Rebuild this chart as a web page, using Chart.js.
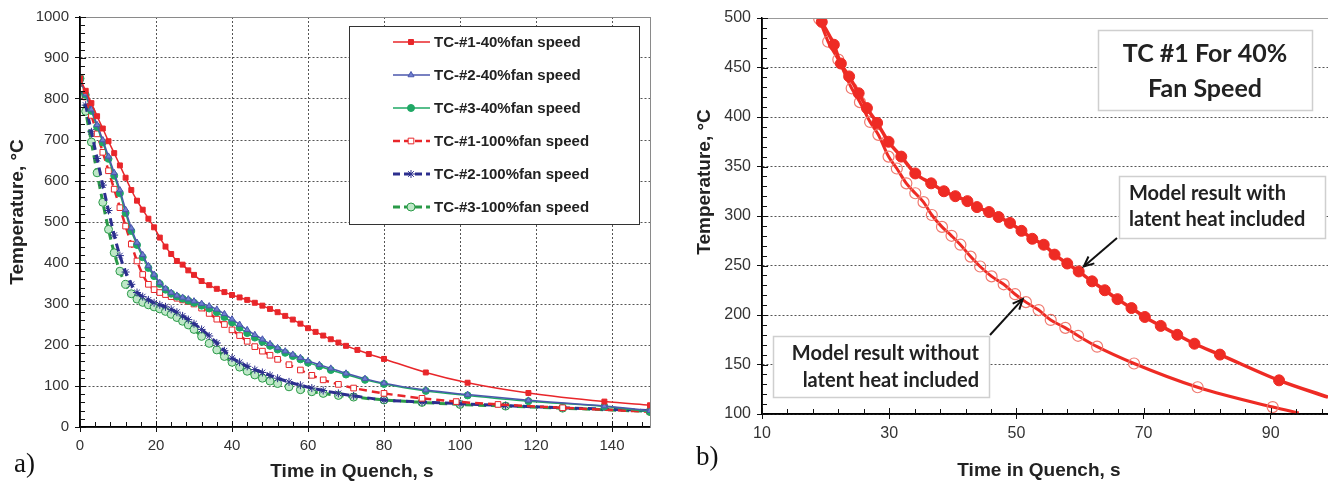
<!DOCTYPE html>
<html>
<head>
<meta charset="utf-8">
<script src="https://cdn.jsdelivr.net/npm/chart.js@4.4.1/dist/chart.umd.min.js"></script>
<style>
  body { margin: 0; background: #fff; width: 1328px; height: 482px; overflow: hidden; position: relative; }
  #wrapA { position: absolute; left: 0; top: 0; width: 680px; height: 482px; }
  #wrapB { position: absolute; left: 680px; top: 0; width: 648px; height: 482px; }
</style>
</head>
<body>
<div id="wrapA"><canvas id="chartA" width="680" height="482"></canvas></div>
<div id="wrapB"><canvas id="chartB" width="648" height="482"></canvas></div>
<script>
// ---- a) thermocouple curves, 40% vs 100% fan speed ----
const xTicksA = [0, 20, 40, 60, 80, 100, 120, 140];
const yTicksA = [0, 100, 200, 300, 400, 500, 600, 700, 800, 900, 1000];
const labelsA = ['TC-#1-40%fan speed', 'TC-#2-40%fan speed', 'TC-#3-40%fan speed',
                 'TC-#1-100%fan speed', 'TC-#2-100%fan speed', 'TC-#3-100%fan speed'];

const tc1_40_t = [0,1.5,3,4.5,6,7.5,9,10.5,12,13.5,15,16.5,18,19.5,21,22.5,24,25.5,27,28.5,30,32,34,36,38,40,42,44,46,48,50,52,54,56,58,60,62,64,66,68,70,73,76,80,91,102,118,138,150];
const tc1_40_v = [850,820,790,758,728,697,668,638,608,578,552,530,508,487,462,440,422,405,396,382,371,356,346,337,329,322,316,310,303,296,288,280,271,262,252,241,232,223,214,206,198,188,178,166,133,108,83,62,53];

const tc23_40_t = [0,1.5,3,4.5,6,7.5,9,10.5,12,13.5,15,16.5,18,19.5,21,22.5,24,25.5,27,28.5,30,32,34,36,38,40,42,44,46,48,50,52,54,56,58,60,63,66,70,75,80,91,102,118,138,150];
const tc2_40_v = [850,812,775,737,700,660,620,578,530,485,450,420,393,372,352,338,328,321,316,312,307,301,295,287,276,263,250,237,225,214,203,193,185,177,169,161,152,143,131,118,107,90,79,65,51,40];
const tc3_40_v = [850,810,771,732,694,654,613,570,522,478,444,414,388,368,349,335,325,318,313,308,303,296,289,280,268,255,242,229,218,208,198,189,181,173,165,157,148,139,128,115,105,88,77,63,50,37];

const tc1_100_t = [0,1.5,3,4.5,6,7.5,9,10.5,12,13.5,15,16.5,18,19.5,21,22.5,24,25.5,27,28.5,30,32,34,36,38,40,42,44,46,48,50,52,55,58,61,64,68,72,80,90,99,110,127,150];
const tc1_100_v = [850,805,760,715,670,625,580,535,490,446,405,372,348,335,328,323,318,314,310,306,300,290,277,263,250,237,223,209,196,185,175,165,152,139,126,115,104,95,82,70,62,55,47,37];

const tc23_100_t = [0,1.5,3,4.5,6,7.5,9,10.5,12,13.5,15,16.5,18,19.5,21,22.5,24,25.5,27,28.5,30,32,34,36,38,40,42,44,46,48,50,52,55,58,61,64,68,72,80,90,100,112,127,150];
const tc2_100_v = [850,785,720,655,590,528,468,418,378,348,328,318,310,303,298,293,287,280,271,262,252,238,222,205,186,168,158,148,140,133,126,119,110,102,95,89,82,76,66,61,57,52,47,40];
const tc3_100_v = [850,770,695,620,548,482,425,380,348,325,312,304,298,293,288,282,275,267,258,249,238,221,204,188,172,158,146,136,127,119,112,106,98,91,86,82,77,73,66,60,55,51,46,38];

// ---- b) TC #1 at 40% fan speed, model with / without latent heat ----
const xTicksB = [10, 30, 50, 70, 90];
const yTicksB = [100, 150, 200, 250, 300, 350, 400, 450, 500];
const withX = [19.4,21.3,22.4,23.7,25.2,26.5,28.1,29.9,31.9,34.1,36.6,38.6,40.4,42.3,43.8,45.7,47.2,49.0,50.8,52.5,54.3,56.0,58.0,59.8,61.9,63.9,65.9,68.1,70.2,72.7,75.3,78.0,82.0,91.3,99];
const withY = [496,473,454,441,424,409,394,375,360,343,333,325,320,315,309,304,299,293,285,277,271,261,252,244,234,225,216,207,198,189,180,171,160,134,117];
const withoutX = [19.0,20.4,22.0,24.1,25.4,27.0,28.3,29.9,31.2,32.7,34.1,35.4,36.7,38.3,39.8,41.2,42.8,44.3,46.1,48.0,49.8,51.5,53.5,55.4,57.7,59.7,62.7,68.5,78.5,90.3,94.4];
const withoutY = [499,476,458,429,415,395,382,360,348,333,323,314,301,289,280,271,259,249,239,231,221,213,205,195,187,179,168,151,127,107,101];

const SANS = '"Liberation Sans", Arial, sans-serif';
const RED = '#e8262a';

function pts(t, v) { return t.map((x, i) => ({ x: x, y: v[i] })); }

// line + marker styles for chart a)
const stylesA = [
  { color: RED,       width: 1.5, dash: [],     point: 'rect',     r: 3.5, fill: RED },
  { color: '#4b57ad', width: 1.5, dash: [],     point: 'triangle', r: 3.5, fill: '#6f7fd0' },
  { color: '#1fa865', width: 1.5, dash: [],     point: 'circle',   r: 3.5, fill: '#1fa865' },
  { color: RED,       width: 2.5, dash: [8, 5], point: 'rect',     r: 4,   fill: '#fff' },
  { color: '#2c2f8e', width: 3,   dash: [8, 5], point: 'star',     r: 4,   fill: '#2c2f8e' },
  { color: '#2a9a48', width: 3,   dash: [8, 5], point: 'circle',   r: 4,   fill: '#bfe8c8' }
];
const dataA = [pts(tc1_40_t, tc1_40_v), pts(tc23_40_t, tc2_40_v), pts(tc23_40_t, tc3_40_v),
               pts(tc1_100_t, tc1_100_v), pts(tc23_100_t, tc2_100_v), pts(tc23_100_t, tc3_100_v)];

function minorTicks(chart, xStart, xStep, yStart, yStep, majorsX, majorsY) {
  const { ctx, chartArea: a, scales: { x, y } } = chart;
  ctx.save();
  ctx.strokeStyle = '#111';
  ctx.lineWidth = 1;
  ctx.beginPath();
  for (let i = 0; xStart + i * xStep <= x.max + 1e-6; i++) {
    const v = xStart + i * xStep;
    const px = Math.round(x.getPixelForValue(v)) + 0.5;
    const len = majorsX.includes(v) ? 6 : 5;
    ctx.moveTo(px, a.bottom); ctx.lineTo(px, a.bottom - len);
  }
  for (let i = 0; yStart + i * yStep <= y.max + 1e-6; i++) {
    const v = yStart + i * yStep;
    const py = Math.round(y.getPixelForValue(v)) + 0.5;
    const len = majorsY.includes(v) ? 6 : 5;
    ctx.moveTo(a.left, py); ctx.lineTo(a.left + len, py);
  }
  ctx.stroke();
  ctx.restore();
}

function axisTitles(ctx, xt, yt, tag) {
  ctx.save();
  ctx.fillStyle = '#222';
  ctx.font = 'bold 19px ' + SANS;
  ctx.textAlign = 'center';
  ctx.textBaseline = 'middle';
  ctx.fillText('Time in Quench, s', xt.x, xt.y);
  ctx.translate(yt.x, yt.y);
  ctx.rotate(-Math.PI / 2);
  ctx.fillText('Temperature, °C', 0, 0);
  ctx.restore();
  ctx.save();
  ctx.fillStyle = '#111';
  ctx.font = '27px "Liberation Serif", "Times New Roman", serif';
  ctx.textBaseline = 'alphabetic';
  ctx.fillText(tag.text, tag.x, tag.y);
  ctx.restore();
}

const decorA = {
  id: 'decorA',
  afterDraw(chart) {
    const { ctx, chartArea: a } = chart;
    ctx.save();
    ctx.strokeStyle = '#8a8a8a';
    ctx.lineWidth = 1;
    ctx.strokeRect(a.left + 0.5, a.top + 0.5, a.right - a.left, a.bottom - a.top);
    ctx.strokeStyle = '#000';
    ctx.lineWidth = 1.5;
    ctx.beginPath();
    ctx.moveTo(a.left, a.top); ctx.lineTo(a.left, a.bottom); ctx.lineTo(a.right, a.bottom);
    ctx.stroke();
    ctx.restore();
    minorTicks(chart, 0, 4, 0, 20, xTicksA, yTicksA);

    // legend box
    ctx.save();
    ctx.fillStyle = '#fff';
    ctx.fillRect(349, 26, 290, 198);
    ctx.strokeStyle = '#333';
    ctx.lineWidth = 1;
    ctx.strokeRect(349.5, 26.5, 290, 198);
    ctx.font = 'bold 15px ' + SANS;
    ctx.textBaseline = 'middle';
    labelsA.forEach((lab, i) => {
      const s = stylesA[i];
      const yy = 42 + i * 33;
      ctx.strokeStyle = s.color;
      ctx.lineWidth = s.width;
      ctx.setLineDash(s.dash.length ? [7, 4] : []);
      ctx.beginPath(); ctx.moveTo(393, yy); ctx.lineTo(430, yy); ctx.stroke();
      ctx.setLineDash([]);
      ctx.fillStyle = s.fill;
      ctx.lineWidth = 1;
      Chart.helpers.drawPoint(ctx, { pointStyle: s.point, radius: s.r, rotation: 0, borderWidth: 1 }, 411, yy);
      ctx.fillStyle = '#222';
      ctx.fillText(lab, 434, yy + 1);
    });
    ctx.restore();

    axisTitles(ctx, { x: 352, y: 472 }, { x: 18, y: 212 }, { text: 'a)', x: 14, y: 472 });
  }
};

new Chart(document.getElementById('chartA'), {
  type: 'line',
  data: {
    datasets: dataA.map((d, i) => {
      const s = stylesA[i];
      return {
        label: labelsA[i],
        data: d,
        borderColor: s.color,
        borderWidth: s.width,
        borderDash: s.dash,
        pointStyle: s.point,
        pointRadius: s.r,
        pointBackgroundColor: s.fill,
        pointBorderColor: s.color,
        pointBorderWidth: 1,
        cubicInterpolationMode: 'monotone',
        fill: false
      };
    })
  },
  options: {
    responsive: false,
    animation: false,
    layout: { autoPadding: false, padding: { top: 17, right: 30, left: 0, bottom: 0 } },
    plugins: { legend: { display: false }, tooltip: { enabled: false } },
    scales: {
      x: {
        type: 'linear', min: 0, max: 150,
        afterFit: (s) => { s.height = 55; },
        afterBuildTicks: (s) => { s.ticks = xTicksA.map(v => ({ value: v })); },
        ticks: { font: { family: SANS, size: 15 }, color: '#333', padding: 5, callback: (v) => String(v) },
        grid: { color: '#555', tickColor: '#111', tickLength: 5 },
        border: { dash: [2, 2], color: '#000', width: 1.5 }
      },
      y: {
        min: 0, max: 1000,
        afterFit: (s) => { s.width = 80; },
        afterBuildTicks: (s) => { s.ticks = yTicksA.map(v => ({ value: v })); },
        ticks: { font: { family: SANS, size: 15 }, color: '#333', padding: 6, callback: (v) => String(v) },
        grid: { color: '#555', tickColor: '#111', tickLength: 5 },
        border: { dash: [2, 2], color: '#000', width: 1.5 }
      }
    }
  },
  plugins: [decorA]
});

// ---- chart b) ----
function arrow(ctx, x1, y1, x2, y2) {
  const ang = Math.atan2(y2 - y1, x2 - x1);
  ctx.beginPath(); ctx.moveTo(x1, y1); ctx.lineTo(x2, y2); ctx.stroke();
  ctx.beginPath();
  ctx.moveTo(x2 - 11 * Math.cos(ang - 0.42), y2 - 11 * Math.sin(ang - 0.42));
  ctx.lineTo(x2, y2);
  ctx.lineTo(x2 - 11 * Math.cos(ang + 0.42), y2 - 11 * Math.sin(ang + 0.42));
  ctx.stroke();
}

function box(ctx, x, y, w, h) {
  ctx.fillStyle = '#fff';
  ctx.fillRect(x, y, w, h);
  ctx.strokeStyle = '#cfcfcf';
  ctx.lineWidth = 1.5;
  ctx.strokeRect(x + 0.5, y + 0.5, w, h);
}

const decorB = {
  id: 'decorB',
  afterDraw(chart) {
    const { ctx, chartArea: a, scales: { x, y } } = chart;
    ctx.save();
    ctx.strokeStyle = '#999';
    ctx.lineWidth = 1;
    ctx.beginPath(); ctx.moveTo(a.left, a.top + 0.5); ctx.lineTo(a.right, a.top + 0.5); ctx.stroke();
    ctx.strokeStyle = '#000';
    ctx.lineWidth = 1.5;
    ctx.beginPath();
    ctx.moveTo(a.left, a.top); ctx.lineTo(a.left, a.bottom); ctx.lineTo(a.right, a.bottom);
    ctx.stroke();
    ctx.restore();
    minorTicks(chart, 10, 4, 100, 10, xTicksB, yTicksB);

    ctx.save();
    const CAL = 'Lato, "Open Sans", sans-serif';
    // title box
    box(ctx, 418, 30, 214, 80);
    ctx.fillStyle = '#222';
    ctx.font = 'bold 25px ' + CAL;
    ctx.textAlign = 'center';
    ctx.textBaseline = 'middle';
    ctx.fillText('TC #1 For 40%', 525, 54);
    ctx.fillText('Fan Speed', 525, 89);

    // with latent heat
    box(ctx, 439, 176, 206, 62);
    ctx.fillStyle = '#222';
    ctx.font = 'bold 20px ' + CAL;
    ctx.textAlign = 'left';
    ctx.fillText('Model result with', 449, 194);
    ctx.fillText('latent heat included', 449, 220);

    // without latent heat
    box(ctx, 93, 336, 216, 61);
    ctx.fillStyle = '#222';
    ctx.textAlign = 'right';
    ctx.fillText('Model result without', 299, 354);
    ctx.fillText('latent heat included', 299, 381);

    ctx.strokeStyle = '#111';
    ctx.lineWidth = 2;
    arrow(ctx, 437, 238, x.getPixelForValue(60.6), y.getPixelForValue(249));
    arrow(ctx, 310, 335, x.getPixelForValue(51), y.getPixelForValue(216));
    ctx.restore();

    axisTitles(ctx, { x: 359, y: 471 }, { x: 25, y: 182 }, { text: 'b)', x: 16, y: 465 });
  }
};

new Chart(document.getElementById('chartB'), {
  type: 'line',
  data: {
    datasets: [
      {
        label: 'Model result with latent heat included',
        data: pts(withX, withY),
        borderColor: '#ee2b24',
        borderWidth: 3.5,
        pointStyle: 'circle',
        pointRadius: withX.map((_, i) => (i === withX.length - 1 ? 0 : 5.5)),
        pointBackgroundColor: '#ee2b24',
        pointBorderColor: '#ee2b24',
        pointBorderWidth: 1,
        cubicInterpolationMode: 'monotone',
        fill: false
      },
      {
        label: 'Model result without latent heat included',
        data: pts(withoutX, withoutY),
        borderColor: '#ee2b24',
        borderWidth: 3,
        pointStyle: 'circle',
        pointRadius: withoutX.map((_, i) => (i === withoutX.length - 1 ? 0 : 5.5)),
        pointBackgroundColor: 'rgba(255,255,255,0)',
        pointBorderColor: '#f07a70',
        pointBorderWidth: 1.2,
        cubicInterpolationMode: 'monotone',
        fill: false
      }
    ]
  },
  options: {
    responsive: false,
    animation: false,
    layout: { autoPadding: false, padding: { top: 18, right: 0, left: 0, bottom: 0 } },
    plugins: { legend: { display: false }, tooltip: { enabled: false } },
    scales: {
      x: {
        type: 'linear', min: 10, max: 99,
        afterFit: (s) => { s.height = 68; s.paddingRight = 0; },
        afterBuildTicks: (s) => { s.ticks = xTicksB.map(v => ({ value: v })); },
        ticks: { font: { family: SANS, size: 16 }, color: '#333', padding: 5 },
        grid: { drawOnChartArea: false, color: '#111', tickLength: 5 },
        border: { color: '#000', width: 1.5 }
      },
      y: {
        min: 100, max: 500,
        afterFit: (s) => { s.width = 82; },
        afterBuildTicks: (s) => { s.ticks = yTicksB.map(v => ({ value: v })); },
        ticks: { font: { family: SANS, size: 16 }, color: '#333', padding: 6 },
        grid: { color: '#555', tickColor: '#111', tickLength: 5 },
        border: { dash: [2, 2], color: '#000', width: 1.5 }
      }
    }
  },
  plugins: [decorB]
});
</script>
</body>
</html>
